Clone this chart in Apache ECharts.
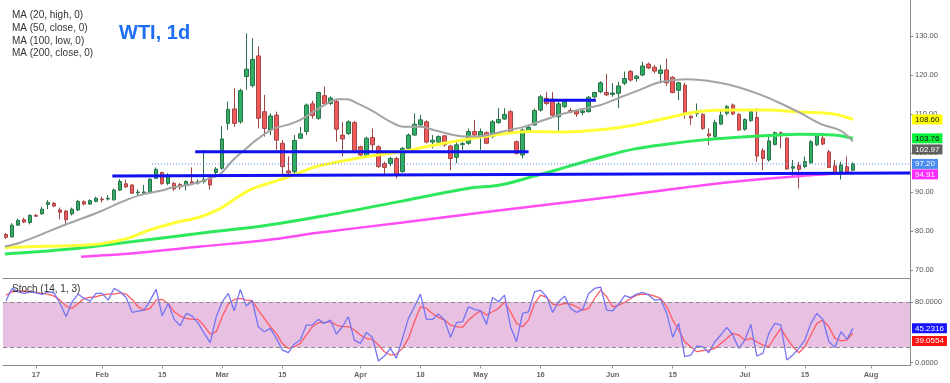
<!DOCTYPE html>
<html><head><meta charset="utf-8">
<script src="https://cdn.jsdelivr.net/npm/echarts@6/dist/echarts.min.js"></script>
<style>html,body{margin:0;padding:0;background:#fff}#c{width:950px;height:383px}</style>
</head><body><div id="c"></div>
<script>
// ---- categories (trading days) ----
const startDate = '2022-01-10';
const skippedDates = ['2022-04-15'];
const categoryCount = 151;
const tickLabels = {
  '2022-01-17':'17','2022-02-01':'Feb','2022-02-15':'15','2022-03-01':'Mar','2022-03-15':'15',
  '2022-04-01':'Apr','2022-04-18':'18','2022-05-02':'May','2022-05-16':'16','2022-06-01':'Jun',
  '2022-06-15':'15','2022-07-01':'Jul','2022-07-15':'15','2022-08-01':'Aug'
};
// ---- daily candles ----
const opens = [79.1,78.5,81.5,82.9,82.2,84.0,84.4,86.8,87.1,85.4,
 85.1,84.4,85.4,87.5,86.9,87.6,88.2,88.2,88.0,90.5,
 92.1,91.8,89.8,89.7,89.8,93.5,95.0,92.2,92.2,91.9,
 91.7,92.6,92.3,92.7,93.6,95.0,96.1,107.6,111.3,108.0,
 119.6,117.3,124.9,110.6,105.9,109.7,102.5,95.4,95.2,103.8,
 105.5,112.6,108.9,114.7,112.7,113.2,104.6,105.0,107.8,101.6,
 99.1,104.0,101.6,97.3,97.3,98.6,95.2,101.2,104.6,107.2,
 108.0,102.8,102.8,104.4,101.8,98.9,102.2,102.5,105.5,104.2,
 105.2,104.2,107.8,108.7,110.6,102.9,99.5,105.7,107.2,111.0,
 114.0,113.8,109.3,111.9,110.9,110.7,110.4,110.6,114.4,115.7,
 115.5,115.0,115.3,117.9,120.9,119.1,120.0,122.8,122.0,120.4,
 121.3,119.4,116.1,117.4,109.4,110.1,109.9,104.9,104.2,107.4,
 110.2,112.3,109.9,106.1,108.3,109.1,100.6,98.2,102.2,105.2,
 103.8,96.1,96.8,96.5,97.5,102.1,103.8,100.3,96.7,95.2,
 96.5,95.6];
const highs = [79.5,82.0,83.2,83.4,84.3,84.4,86.2,87.9,87.5,86.0,
 85.4,86.0,88.0,87.9,88.1,88.8,88.8,89.2,90.9,93.3,
 93.1,92.0,90.7,91.8,93.5,96.3,95.2,94.8,92.6,92.3,
 93.0,96.3,93.2,100.8,94.0,96.4,106.9,113.2,116.6,116.5,
 130.7,129.4,127.3,114.9,110.2,110.6,103.3,99.1,104.6,106.7,
 112.7,113.4,115.7,117.0,114.5,113.6,108.0,108.4,108.2,101.9,
 104.2,106.3,102.0,97.8,99.0,99.0,101.5,105.0,110.2,109.8,
 108.4,104.6,104.5,104.6,102.1,103.0,102.9,106.3,108.5,106.3,
 105.6,108.5,111.5,111.5,111.0,103.2,106.3,107.2,111.4,114.9,
 115.7,115.6,113.6,113.8,111.5,111.0,111.5,114.6,115.7,118.4,
 120.3,117.9,118.3,120.9,121.3,120.0,123.4,123.2,122.6,122.6,
 124.2,119.7,118.3,118.0,109.7,112.7,110.2,106.3,108.5,111.0,
 112.3,112.7,110.2,108.9,111.0,111.5,101.2,104.2,105.5,105.5,
 104.0,98.2,97.8,99.1,103.3,105.0,104.6,100.8,98.2,97.8,
 99.1,97.6];
const lows = [77.9,78.3,81.3,82.0,81.7,83.6,84.1,85.6,86.1,83.0,
 81.8,84.0,85.1,86.6,86.7,87.4,87.3,87.8,87.8,90.3,
 91.0,89.5,89.2,89.2,89.6,93.3,91.8,91.8,90.3,90.6,
 90.4,91.8,91.9,92.2,90.6,94.6,95.7,105.9,106.7,107.5,
 116.2,116.8,106.3,104.2,104.6,100.8,94.1,94.1,94.4,103.6,
 104.6,108.8,108.5,112.4,112.3,102.9,99.1,104.6,99.9,99.2,
 98.8,100.3,96.2,94.4,96.6,93.5,95.0,100.8,104.4,106.9,
 102.5,101.2,102.5,101.6,95.6,97.4,100.8,102.1,104.3,100.8,
 102.3,103.8,107.5,108.5,105.1,99.6,98.6,105.5,106.9,110.6,
 112.3,109.3,105.5,111.5,110.2,109.3,109.7,110.4,114.0,115.3,
 114.6,114.4,111.5,117.4,118.3,118.3,119.7,121.5,120.4,117.9,
 117.2,115.3,113.6,108.8,107.2,109.3,105.9,102.0,104.0,107.2,
 109.7,109.7,105.7,105.7,108.0,97.8,95.6,97.8,101.9,101.2,
 95.8,93.9,90.9,96.1,97.3,101.8,102.0,96.1,94.6,93.2,
 94.8,95.4];
const closes = [78.4,81.5,82.7,82.3,84.0,83.8,85.6,87.3,86.4,84.8,
 82.9,85.6,87.6,86.9,87.8,88.4,88.0,88.4,90.5,92.7,
 91.3,89.7,90.0,90.0,93.3,95.8,92.2,93.9,90.8,91.3,
 92.7,92.1,92.7,93.2,91.8,95.9,103.6,111.2,107.6,116.0,
 121.5,124.0,108.9,106.3,109.5,103.3,96.5,94.9,103.2,104.9,
 112.3,109.6,115.5,112.6,114.1,106.1,103.6,108.0,100.3,99.5,
 103.8,102.1,96.5,96.3,98.6,94.4,101.2,104.6,107.4,108.5,
 102.8,103.3,104.2,102.1,98.6,102.1,102.4,105.5,104.6,105.5,
 102.5,108.0,108.6,109.9,105.5,99.9,105.9,106.6,110.9,114.4,
 112.7,109.7,112.6,113.3,110.5,110.0,110.8,114.3,115.5,118.0,
 114.9,115.4,117.2,119.1,118.7,119.7,122.3,121.8,121.0,121.3,
 118.0,115.5,118.0,110.0,109.0,110.6,106.3,104.4,107.8,109.7,
 111.9,110.0,105.9,108.6,110.6,99.2,98.6,103.1,105.2,104.4,
 95.9,96.5,95.8,97.8,102.9,104.6,102.3,96.3,94.8,96.9,
 95.2,97.2];
// ---- moving averages: [day index, value] ----
const ma20High = [[-0.2,76.0],[2.3,77.0],[5.7,79.0],[9,81.1],[12.3,83.0],[15.7,85.0],[19,87.3],[22.3,89.2],[25.7,90.3],[27.8,91.2],[30.7,91.9],[32.3,92.6],[34.5,93.8],[35.7,94.6],[37.8,98.2],[39.5,100.5],[41.8,103.5],[44.5,106.2],[46.8,107.2],[49,108.5],[51.2,110.6],[53.5,112.7],[55.2,113.8],[56.8,113.8],[58.5,112.7],[61.2,110.6],[64,108.0],[66.2,106.7],[69,106.7],[71.2,105.9],[74.5,104.6],[76.8,104.2],[79,104.3],[81.2,105.0],[83.5,105.8],[85.7,106.5],[87.8,107.5],[91.8,109.6],[95.7,111.2],[99,112.3],[102.3,114.3],[105.2,116.0],[108.5,118.0],[111.2,118.7],[113.5,118.9],[116.8,118.5],[121.2,117.2],[125.7,114.9],[129,112.7],[132.3,110.2],[135.7,107.4],[139,105.7],[141,102.97]];
const ma50Close = [[-0.2,75.8],[4.5,76.0],[10.2,76.2],[15.7,76.7],[20.2,78.1],[24,80.3],[27.8,82.0],[32.3,83.6],[35.2,85.4],[37.8,87.9],[40.7,90.6],[44.5,92.6],[47.8,94.3],[51.2,96.3],[54.5,97.5],[60.2,99.1],[65.7,100.3],[71.2,102.0],[76.8,103.5],[82.3,104.8],[87.3,105.5],[92.8,105.4],[98.5,105.9],[104,107.0],[109.5,108.8],[115.7,110.7],[121.2,111.0],[126.8,111.0],[132.3,110.5],[137.8,110.0],[141,108.60]];
const ma100Low = [[-0.2,74.1],[10.2,75.3],[21.2,77.3],[32.3,79.4],[43.5,81.5],[52.3,83.7],[65.7,87.6],[76.8,90.9],[82.3,91.8],[87.8,94.0],[93.5,96.5],[99,98.9],[104.5,101.0],[110.2,102.3],[115.7,103.3],[121.2,104.0],[126.8,104.5],[132.3,104.8],[137.8,104.6],[141,103.76]];
const ma200Close = [[12.5,73.4],[21.2,74.3],[32.3,76.0],[43.5,77.7],[52.3,79.6],[65.7,82.1],[82.3,85.3],[99,88.4],[110.2,90.6],[121.2,92.6],[132.3,94.1],[141,94.91]];
const maLast = {ma20:102.97, ma50:108.60, ma100:103.76, ma200:94.91};
// ---- drawn levels: [day index, price] ----
const lowerSupport = [[17.7,94.1],[150.5,94.85]];
const upperSupport = [[31.5,100.3],[87,100.3]];
const shortResistance = [[89.5,113.5],[98.2,113.5]];
const lastPrice = 97.20;
const lastPriceLine = [[24.3,97.20],[150.5,97.20]];
// ---- Stochastic (14,1,3) ----
const stochK = [81.8,98.1,93.7,91.5,93.7,92.3,90.1,93.7,92.3,78.2,60.6,80.4,90.6,84.8,81.3,91.5,91.5,82.6,98.1,93.7,86.2,66.3,68.1,69.4,82.6,96.8,61.9,78.2,57.1,48.7,65.0,61.5,51.8,38.6,26.2,60.6,80.4,91.5,68.5,96.8,74.7,81.8,47.4,40.8,45.2,31.9,16.5,13.0,24.4,29.7,
 49.6,49.6,57.1,51.8,56.2,37.7,47.4,60.6,29.7,25.3,39.9,33.3,2.0,8.6,18.7,5.5,31.9,58.4,73.8,90.6,57.1,57.1,64.1,56.2,33.3,52.7,54.0,73.8,70.3,68.5,50.5,86.2,80.4,89.3,47.4,27.5,65.0,67.2,93.7,95.9,87.1,66.3,80.4,87.9,71.6,66.3,70.3,91.5,98.1,100,69.4,68.5,77.4,
 88.5,86.0,90.5,93.0,89.3,82.6,83.5,65.0,33.3,51.8,7.7,9.9,21.8,20.9,13.0,27.5,36.4,46.5,36.4,18.7,29.7,50.5,8.6,12.1,38.6,51.8,49.6,3.3,9.9,18.7,29.7,51.8,65.0,57.1,27.5,20.0,40.8,30.6,45.2316];
const stochD = [89.3,93.7,94.5,94.5,93.7,92.8,91.5,90.6,87.9,82.6,74.7,71.6,78.2,84.8,86.2,87.1,89.3,90.6,90.6,92.3,90.6,83.5,73.8,69.4,71.6,82.6,83.5,78.2,67.2,61.5,58.4,57.1,57.1,48.3,37.7,40.8,60.6,77.4,83.5,84.8,82.6,81.8,69.4,58.4,47.4,38.6,25.3,18.7,20.9,25.3,
 36.4,47.4,52.7,52.7,54.0,49.6,47.4,47.4,43.0,36.4,31.9,30.6,23.1,14.3,9.9,11.2,18.7,31.9,54.0,73.8,71.6,65.0,59.7,56.2,49.6,47.4,46.5,56.2,62.8,68.5,62.8,67.2,71.6,80.4,67.2,51.8,47.4,56.2,78.2,89.3,86.2,77.4,76.0,78.2,77.4,73.8,69.4,71.6,84.8,95.9,87.1,73.8,76.0,
 79.5,84.8,89.3,90.6,90.1,87.9,84.8,73.8,56.2,43.0,27.5,20.9,14.3,15.6,16.5,18.7,25.3,31.9,38.6,36.4,29.7,31.9,27.5,23.1,20.9,34.1,45.2,31.9,20.9,13.0,20.9,36.4,51.8,56.2,47.4,31.9,28.8,29.7,39.0554];
const stochBand = [20, 80];

// ---- build ----
const categories = [];
(function(){
  const d = new Date(startDate + 'T00:00:00Z');
  while (categories.length < categoryCount) {
    const s = d.toISOString().slice(0,10), wd = d.getUTCDay();
    if (wd !== 0 && wd !== 6 && skippedDates.indexOf(s) < 0) categories.push(s);
    d.setUTCDate(d.getUTCDate() + 1);
  }
})();
const candleData = opens.map((o,i)=>[o, closes[i], lows[i], highs[i]]);
const FONT = 'Liberation Sans, Arial, sans-serif';
const CLEAR = 'rgba(0,0,0,0)';

function tagItem(value, text, bg, fg, dy){
  return {yAxis:value, lineStyle:{color:CLEAR, width:1, type:'solid'},
    label:{show:true, position:'end', distance:2, formatter:text, backgroundColor:bg, color:fg,
      fontSize:8, fontFamily:FONT, padding:[1,3,1,3], offset:[0, dy||0]}};
}
function tag(value, text, bg, fg, dy){
  return { silent:true, symbol:'none', animation:false, lineStyle:{color:CLEAR, width:1},
    data:[tagItem(value, text, bg, fg, dy)] };
}
function maLine(data, color, width, mark){
  return {type:'line', xAxisIndex:1, yAxisIndex:0, data:data, smooth:0.35, showSymbol:false, silent:true,
    lineStyle:{color:color, width:width}, markLine:mark, z:3};
}
function levelLine(data, color, width, type){
  return {type:'line', xAxisIndex:1, yAxisIndex:0, data:data, showSymbol:false, silent:true,
    lineStyle:{color:color, width:width, type:type||'solid'}, z:4};
}
const isTick = (i, v) => Object.prototype.hasOwnProperty.call(tickLabels, v);

const option = {
  animation:false,
  backgroundColor:'#ffffff',
  textStyle:{fontFamily:FONT},
  grid:[
    {left:3, right:40, top:-3, height:273, outerBoundsMode:'none'},
    {left:3, right:40, top:287, height:75.5, outerBoundsMode:'none'}
  ],
  xAxis:[
    {type:'category', gridIndex:0, data:categories, boundaryGap:true, offset:8,
     axisLine:{onZero:false, lineStyle:{color:'#8e8e8e'}}, axisTick:{show:false}, axisLabel:{show:false}, splitLine:{show:false}},
    {type:'value', gridIndex:0, min:-0.5, max:categoryCount-0.5, show:false, axisLine:{onZero:false}},
    {type:'category', gridIndex:1, data:categories, boundaryGap:true, offset:3,
     axisLine:{onZero:false, lineStyle:{color:'#8e8e8e'}},
     axisTick:{show:true, length:3, alignWithLabel:true, interval:isTick, lineStyle:{color:'#999'}},
     axisLabel:{interval:isTick, formatter:v=>tickLabels[v]||'', fontSize:7.5, fontWeight:'bold', color:'#666', margin:5},
     splitLine:{show:false}}
  ],
  yAxis:[
    {type:'value', gridIndex:0, position:'right', min:70, max:140, interval:10,
     axisLine:{show:false, onZero:false}, axisTick:{show:true, length:3, lineStyle:{color:'#888'}},
     axisLabel:{fontSize:7.5, color:'#555', margin:5, showMaxLabel:false, formatter:v=>v.toFixed(2)},
     splitLine:{show:false}},
    {type:'value', gridIndex:1, position:'right', min:0, max:100, interval:80,
     axisLine:{show:false, onZero:false}, axisTick:{show:true, length:3, lineStyle:{color:'#888'}},
     axisLabel:{fontSize:7.5, color:'#555', margin:5, showMaxLabel:false, formatter:v=>v.toFixed(4)},
     splitLine:{show:false}}
  ],
  graphic:[
    {type:'line', silent:true, shape:{x1:910.5, y1:0, x2:910.5, y2:366}, style:{stroke:'#8a8a8a', lineWidth:1}, z:10},
    {type:'text', left:12, top:9, silent:true, style:{text:'MA (20, high, 0)\nMA (50, close, 0)\nMA (100, low, 0)\nMA (200, close, 0)', font:'10px '+FONT, fill:'#333', lineHeight:12.7}},
    {type:'text', left:119, top:23, silent:true, style:{text:'WTI, 1d', font:'bold 20px '+FONT, fill:'#1c6ef2'}},
    {type:'text', left:12, top:284, silent:true, style:{text:'Stoch (14, 1, 3)', font:'10px '+FONT, fill:'#333'}, z:20}
  ],
  series:[
    {type:'candlestick', xAxisIndex:0, yAxisIndex:0, data:candleData, barWidth:4, silent:true,
     itemStyle:{color:'#2fae64', color0:'#f05a5a', borderColor:'#2a7049', borderColor0:'#a34545', borderWidth:1}, z:2},
    maLine(ma200Close, '#ff4cf4', 2.5, tag(maLast.ma200, maLast.ma200.toFixed(2), '#ff2cff', '#ffffff', 1.5)),
    maLine(ma100Low, '#2ee85c', 3, tag(maLast.ma100, maLast.ma100.toFixed(2), '#0bf23a', '#111', 0)),
    maLine(ma50Close, '#ffff38', 3, tag(maLast.ma50, maLast.ma50.toFixed(2), '#ffff00', '#111', 0)),
    maLine(ma20High, '#a3a3a3', 2, tag(maLast.ma20, maLast.ma20.toFixed(2), '#606060', '#ffffff', 8)),
    levelLine(lowerSupport, '#1010f0', 3),
    levelLine(upperSupport, '#1010f0', 3),
    levelLine(shortResistance, '#1010f0', 3),
    Object.assign(levelLine(lastPriceLine, '#5b86f2', 1, [1,2]), {markLine: tag(lastPrice, lastPrice.toFixed(2), '#4a8df0', '#ffffff', 0)}),
    {type:'line', xAxisIndex:2, yAxisIndex:1, data:stochK, showSymbol:false, silent:true,
     lineStyle:{color:'#7474f4', width:1.3}, z:4,
     markArea:{silent:true, itemStyle:{color:'#e7c0e2'}, data:[[{yAxis:stochBand[0]},{yAxis:stochBand[1]}]]},
     markLine:{silent:true, symbol:'none', animation:false,
       lineStyle:{color:'#8c8c8c', type:[4,3], width:1},
       label:{show:false},
       data:[{yAxis:stochBand[0]},{yAxis:stochBand[1]},
         tagItem(stochK[stochK.length-1], stochK[stochK.length-1].toFixed(4), '#1414ff', '#ffffff', 0)]}},
    {type:'line', xAxisIndex:2, yAxisIndex:1, data:stochD, showSymbol:false, silent:true,
     lineStyle:{color:'#ff5a62', width:1.3}, z:3,
     markLine: tag(stochD[stochD.length-1], stochD[stochD.length-1].toFixed(4), '#ff1010', '#ffffff', 8)}
  ]
};
const chart = echarts.init(document.getElementById('c'), null, {renderer:'canvas'});
chart.setOption(option);
</script>
</body></html>
